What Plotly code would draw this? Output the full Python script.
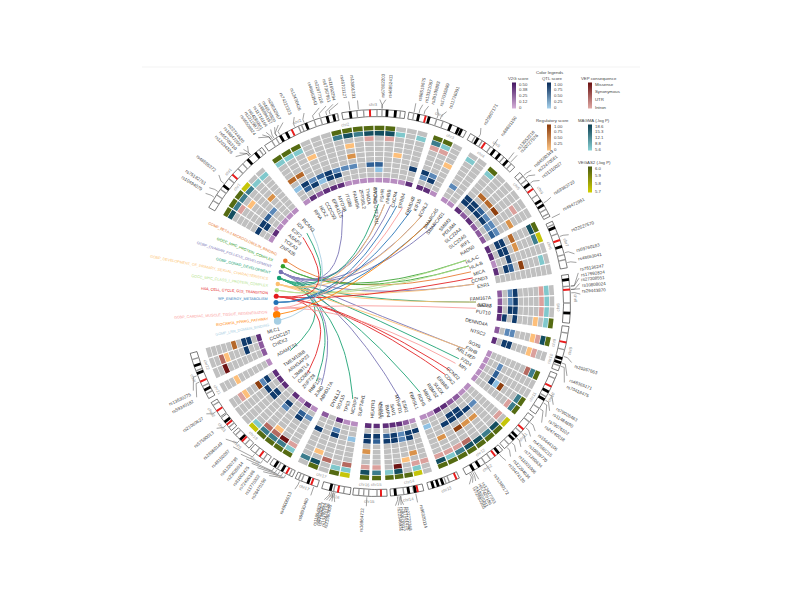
import math
import plotly.graph_objects as go

# ---------------- heat-map sectors (rows: 0 outer .. 10 inner) ----------------
chr1_genes = ["ZNF436", "TCEA3", "ASAP3", "E2F2", "ID3", "RCAN3"]
chr1_cells = {0: "OOOy..", 1: "Tuuuvv", 2: ".o....", 3: "..t...", 5: "....s.", 7: "BBbc..", 8: ".B....", 10: "qPqqqq"}
chr2_genes = ["RPIA", "NCK2", "CCDC93", "EPB41L5", "MYO3B", "ITGB6", "FAM49A", "ZFP36L2", "THADA", "STON1-GTF2A1L", "EPCAM", "FSHR", "INHBB", "CXCR4", "ERBB4"]
chr2_cells = {0: "OOO...OOOOOO...", 1: "vvv...uTuTTTv.v", 2: ".........o.o...", 3: "...t...t.......",
              5: "rr.....s....t..", 7: "dBcbBccc.bb...B", 8: ".bBdBB....d....", 10: "qPpPPPqqqqqqqqP"}
chr3_genes = ["FRMD4B", "KIF15", "FOXL2"]
chr3_cells = {0: "OO.", 1: "uv.", 2: "oo.", 4: "..t", 7: "Bc.", 8: "cB.", 10: "PPq"}
chr4_genes = ["SMARCA5", "SMARCAD1"]
chr4_cells = {1: "v.", 7: "c.", 10: "qq"}
chr5_genes = ["SMIM3", "PDLIM4", "SLC22A4", "SLC22A5", "IRF1", "RAD50"]
chr5_cells = {0: "O.....", 1: "v.....", 2: "....o.", 4: ".....s", 5: ".rrR..", 7: "BBbccc", 8: "BBBBcb", 10: "PpPppp"}
chr6_genes = ["HLA-C", "HLA-B", "MICA", "CCND3", "ESR1"]
chr6_cells = {0: "Oy...", 1: "Tu.v.", 5: "rs.R.", 7: "BBBb.", 8: "BB.B.", 10: "PPqP."}
chr8_genes = ["FAM167A", "GATA4", "NEIL2", "FUT10"]
chr8_cells = {0: "...O", 1: "vvvv", 2: "ooo.", 3: "...t", 7: "BBBB", 8: "ccB.", 9: "...B", 10: "ppPP"}
chr9_genes = ["DENND4A"]
chr9_cells = {0: "O", 1: "T", 2: "o", 3: "t", 7: "c", 8: "c", 10: "p"}
chr10_genes = ["NTSC2"]
chr10_cells = {0: ".", 2: "o", 3: "t", 7: "B", 8: "B", 10: "P"}
chr11_genes = ["SOX6", "FSHB", "ARL14EP", "FZD4", "MPI"]
chr11_cells = {0: "O..OO", 1: "u..uu", 2: "n...o", 5: "...R.", 6: "...d.", 7: ".cbB.", 10: "qqqqq"}
chr12_genes = ["CCND2", "CDK2", "ERBB3", "SUOX", "RBMS2", "MBD6", "RDH5", "FBRSL1"]
chr12_cells = {0: "yOOOOOOO", 1: ".TuTTuvT", 2: "o...nooo", 5: "..ssR.s.", 7: ".cBBBB..", 8: "...BB..d", 10: "qqppPPqq"}
chr14_genes = ["ESR2", "MTHFD1", "SAV1", "BMP4", "MYO16"]
chr14_cells = {0: ".yOOO", 1: ".v.Tv", 2: "oo.m.", 3: "..t..", 4: ".s...", 7: ".BcBB", 8: "BBcBb", 10: "qpPPP"}
chr15_genes = ["NR2F2"]
chr15_cells = {0: "O", 1: "u", 2: "o", 7: "b", 8: "B", 10: "P"}
chr16_genes = ["HEATR3"]
chr16_cells = {0: "O", 1: "T", 2: "o", 5: "s", 7: "B", 8: "B", 10: "P"}
chr17_genes = ["SUPT4H1", "MCRIP1", "TP53", "SOX15", "DYNLL2"]
chr17_cells = {0: "yO.O.", 1: "vv.Tu", 2: "n.n..", 3: "...t.", 7: "d.B.B", 8: "..c..", 10: "qqP.p"}
chr19_genes = ["ABHD17A", "JUND", "RNF126", "ZNF728", "CCNE1", "L3MBTL4", "ARHGAP23", "TMEM106B"]
chr19_cells = {0: "OOOOy...", 1: "vuuuv...", 2: "omnn...o", 3: "..t....t", 6: ".......R", 7: ".B.c.BBc", 8: "cb.B.B.B", 10: "qPqP.PPP"}
chr21_genes = ["ADAMTS1"]
chr21_cells = {3: "t", 10: "q"}
chr22_genes = ["CHEK2", "CCDC157", "MLC1"]
chr22_cells = {2: "mn.", 3: ".t.", 5: "..r", 7: ".BB", 8: "..B", 10: "ppP"}

sector_names = ["chr1", "chr2", "chr3", "chr4", "chr5", "chr6", "chr8", "chr9", "chr10", "chr11", "chr12", "chr14", "chr15", "chr16", "chr17", "chr19", "chr21", "chr22"]
sector_genes = [chr1_genes, chr2_genes, chr3_genes, chr4_genes, chr5_genes, chr6_genes, chr8_genes, chr9_genes, chr10_genes, chr11_genes, chr12_genes, chr14_genes, chr15_genes, chr16_genes, chr17_genes, chr19_genes, chr21_genes, chr22_genes]
sector_cells = [chr1_cells, chr2_cells, chr3_cells, chr4_cells, chr5_cells, chr6_cells, chr8_cells, chr9_cells, chr10_cells, chr11_cells, chr12_cells, chr14_cells, chr15_cells, chr16_cells, chr17_cells, chr19_cells, chr21_cells, chr22_cells]
sector_start = [-60.4, -36.5, 18.6, 31.5, 39.5, 62.5, 84.0, 101.0, 106.0, 112.7, 131.0, 161.7, 178.5, 182.4, 188.8, 209.0, 239.5, 244.7]
sector_end = [-40.0, 16.8, 29.0, 38.5, 61.0, 80.8, 98.5, 104.4, 109.4, 129.2, 159.7, 177.5, 181.8, 185.8, 206.7, 237.0, 243.0, 255.4]

cell_colors = {".": "#c0c0c0", "P": "#5e2d79", "p": "#8c5a9e", "q": "#b78cc0",
               "B": "#0f3a6b", "b": "#2f5f94", "c": "#5b88b8", "d": "#8fc1e3",
               "R": "#8e3f0f", "r": "#b5682a", "s": "#d9924a", "t": "#fdbf7a",
               "m": "#6e1414", "n": "#b56a60", "o": "#dba09c",
               "T": "#144e60", "u": "#3c7c8c", "v": "#80c8cc", "O": "#556b12", "y": "#c5c50a"}

# ---------------- ideogram ----------------
ideo_names = ["chr1", "chr2", "chr3", "chr4", "chr5", "chr6", "chr7", "chr8", "chr9", "chr10", "chr11", "chr12", "chr13", "chr14", "chr15", "chr16", "chr17", "chr18", "chr19", "chr20", "chr21", "chr22", "chrX"]
ideo_start = [-60.4, -35.5, -10.5, 9.5, 28.9, 47.6, 65.0, 81.5, 97.0, 111.5, 126.0, 139.5, 154.8, 166.0, 177.0, 188.0, 198.0, 206.0, 214.5, 221.4, 228.8, 234.0, 240.4]
ideo_end = [-36.5, -11.8, 8.4, 27.5, 45.4, 63.4, 79.5, 96.0, 110.5, 125.0, 138.8, 152.6, 164.5, 176.0, 187.2, 196.6, 205.0, 213.6, 220.8, 228.0, 233.6, 239.0, 254.9]
ideo_centromere = [-48.4, -26.2, -2.1, 14.6, 34.0, 53.8, 71.0, 86.0, 101.8, 115.6, 130.8, 142.3, 155.7, 167.8, 178.8, 191.7, 199.9, 208.0, 217.4, 224.3, 231.0, 236.0, 246.0]
ideo_black = [-52.6, -42, -39, -30, -28, -21.6, -15, -13, -8, 3, 5.5, 12.5, 15.7, 22.5, 25, 26, 31.5, 37.5, 39.5, 42.5, 52, 58, 59.5, 67, 73, 83, 93, 106.7, 108, 117.4, 120, 133.7, 135, 141, 148, 150, 160, 161.5, 163, 168.5, 170.5, 174.5, 194, 201, 209.5, 212, 225, 232, 243.2, 248.6, 251]
ideo_gray = [-58, -56, -54, -50, -46, -44, -37.5, -33, -31.5, -24, -23, -19, -17, -11.8, -6, -4, 0, 1.5, 7, 11, 18, 20, 30.5, 33, 36, 41, 44, 49, 50.5, 56, 61, 62.5, 66, 69, 75.5, 77, 85, 90, 99, 104, 109, 113, 119, 123, 128, 132, 137, 144, 146, 158, 159, 169, 172, 180, 182.5, 184, 185.5, 190, 193, 203, 204, 207, 211, 216, 219, 223, 227, 230, 238, 242, 244.5, 249.5, 253]

# ---------------- SNP labels ----------------
snp_label = ["rs10494079", "rs75182751", "rs46555372", "rs12034326", "rs66701310", "rs18847205", "rs22744620", "rs46509924", "rs12119877", "rs64285801", "rs11716164", "rs66894167", "rs46574820", "rs28032967",
             "rs74221323", "rs12470426", "rs46663543", "rs22877120", "rs67367951", "rs11692294", "rs46701127", "rs13001231",
             "rs67802203", "rs46852411", "rs98519675", "rs13321067", "rs26109893", "rs17035889", "rs11726091",
             "rs25607171", "rs68691150", "rs13952218", "rs20727576", "rs64580349", "rs22470561", "rs31310027", "rs69383720", "rs49472961",
             "rs22527570", "rs69760183", "rs48663041", "rs78136247", "rs17992824", "rs27308551", "rs10808024", "rs29443870",
             "rs20267663", "rs48365171", "rs70418475", "rs79026463", "rs11484690", "rs79076102", "rs24740018",
             "rs15444106", "rs47560215", "rs10839770", "rs71260634", "rs11031006", "rs12294034",
             "rs10474120", "rs31380172", "rs12427033", "rs57420186", "rs18600241", "rs72980355",
             "rs96320114", "rs22770368", "rs17101425", "rs80070912", "rs22346931",
             "rs16964712", "rs21060835", "rs12470126", "rs71980044", "rs80520317", "rs11654829", "rs98930460",
             "rs48006013", "rs28470159", "rs11770322", "rs72490186", "rs81002475", "rs23020914", "rs61220738", "rs48150267",
             "rs28360149", "rs57580013", "rs21060627", "rs59340182", "rs13630275"]
snp_angle = [-57.4, -55.5, -51, -44, -42.5, -41, -39.5, -35.7, -34.3, -33, -31.5, -30.2, -29, -27.5,
             -24, -21, -16.5, -14.5, -12.5, -11, -8, -5.5,
             0.8, 2.5, 11, 13, 14.7, 17.3, 20,
             30.7, 36.4, 42.3, 43.5, 49.3, 51, 53, 58.7, 64,
             70.4, 76, 78.5, 81.5, 83, 84.5, 86, 87.5,
             107, 111, 113, 120, 122, 124, 126,
             129, 131, 133, 135, 137, 139,
             140.7, 146, 150, 151, 152, 153,
             168.5, 172.5, 173.2, 174, 174.8,
             183, 192, 192.8, 193.6, 194.4, 195, 199,
             203.8, 212, 214, 216, 218, 220, 222, 225,
             228, 232, 237, 242.4, 244.5]
snp_pos = [-57, -55, -52, -41, -41, -40.5, -40.5, -33, -33, -32.5, -32, -31, -31, -30,
           -25, -22, -19, -17, -15, -14, -8, -5.5,
           1.5, 1.5, 11, 12.5, 14, 18, 19,
           31.5, 36.5, 42.5, 43.5, 49, 50, 52, 59, 64,
           70, 75, 78, 85, 85, 86, 86, 87,
           106, 108, 109, 118, 120, 121, 123,
           128, 130, 132, 134, 136, 138,
           141, 146, 150, 150.5, 151, 151.5,
           168.5, 173, 173, 173.5, 174,
           183, 192.5, 193, 193, 193.5, 194, 199,
           203.5, 208, 209, 210, 211, 212, 216, 219,
           225, 231, 236, 246, 248]

# ---------------- pathways and links ----------------
pathway_names = ["GOMF_BETA-2-MICROGLOBULIN_BINDING", "GOCC_MHC_PROTEIN_COMPLEX", "GOBP_OVARIAN_FOLLICLE_DEVELOPMENT", "GOBP_GONAD_DEVELOPMENT",
                 "GOBP_DEVELOPMENT_OF_PRIMARY_SEXUAL_CHARACTERISTICS", "GOCC_MHC_CLASS_I_PROTEIN_COMPLEX", "HSA_CELL_CYCLE_G1S_TRANSITION", "WP_ENERGY_METABOLISM",
                 "GOBP_CARDIAC_MUSCLE_TISSUE_REGENERATION", "BIOCARTA_PPARG_PATHWAY", "GOMF_LRR_DOMAIN_BINDING"]
pathway_colors = ["#e8762b", "#33a02c", "#7570b3", "#13a06f", "#fdbf6f", "#b2df8a", "#e31a1c", "#2171b5", "#fb9a99", "#ff7f00", "#a6cee3"]
pathway_sizes = [4.5, 4.5, 4.5, 4.5, 4.5, 4.5, 5, 5, 5, 7.5, 7.5]
pathway_links = [
    ["MICA"],
    ["HLA-C", "HLA-B"],
    ["MYO3B", "FSHR", "INHBB", "FOXL2", "SMARCAD1", "ESR1", "FSHB", "MTHFD1", "JUND"],
    ["ID3", "EPCAM", "GATA4", "FZD4", "RDH5", "MCRIP1", "RNF126", "ADAMTS1"],
    ["GATA4", "FSHR", "ESR1", "FOXL2", "FSHB"],
    ["HLA-C", "HLA-B"],
    ["E2F2", "CCND3", "CCND2", "CDK2", "CCNE1"],
    ["CXCR4", "FRMD4B", "SMARCA5"],
    ["ERBB4", "NEIL2", "MPI"],
    ["SMARCA5"],
    ["RCAN3"],
]

# ---------------- legends ----------------
legend_titles = ["V2G score", "QTL score", "VEP consequence", "Regulatory score", "MAGMA (-log P)", "VEGAS2 (-log P)"]
legend_ticks = [["0.50", "0.38", "0.25", "0.12", "0"], ["1.00", "0.75", "0.50", "0.25", "0"], ["Missense", "Synonymous", "UTR", "Intron"],
                ["1.00", "0.75", "0.50", "0.25", "0"], ["18.6", "15.3", "12.1", "8.8", "5.6"], ["6.0", "5.9", "5.8", "5.7"]]
legend_low = ["#d6b0d8", "#a8d3ee", "#e0aaa5", "#fdc686", "#8bd3d6", "#d2d000"]
legend_high = ["#4a1a66", "#0c2f5c", "#6e1414", "#8e3f0f", "#0f4456", "#4f5f10"]
legend_x = [512, 547, 588, 547, 588, 588]
legend_top = [83, 83, 83, 125, 125, 167]
legend_title_x = [518, 552, 599, 552, 594, 594]

CX, CY = 377.0, 303.0


def pol(r, a):
    t = math.radians(a)
    return CX + r * math.sin(t), CY - r * math.cos(t)


def wedge(r0, r1, a0, a1):
    n = max(2, int(abs(a1 - a0) / 1.0) + 1)
    pts = [pol(r1, a0 + (a1 - a0) * i / n) for i in range(n + 1)] + [pol(r0, a1 - (a1 - a0) * i / n) for i in range(n + 1)]
    pts.append(pts[0])
    return [p[0] for p in pts], [p[1] for p in pts]


fig = go.Figure()
ann = []


def radial_text(text, r, a, size, color, outward):
    """Text along a radius. outward=True: starts at r and runs away from centre."""
    a = a % 360
    pos = pol(r, a)
    right_half = a < 180
    rot = a - 90 if right_half else a - 270
    if outward == right_half:
        xa = "left"
        ya = "bottom" if rot < 0 else "top"
    else:
        xa = "right"
        ya = "top" if rot < 0 else "bottom"
    ann.append(dict(x=pos[0], y=pos[1], xref="x", yref="y", text=text, showarrow=False, textangle=rot,
                    xanchor=xa, yanchor=ya, borderpad=0, font=dict(size=size, color=color, family="Liberation Sans")))


def tangent_text(text, r, a, size, color):
    pos = pol(r, a)
    aa = a % 360
    rot = aa if (aa < 90 or aa > 270) else aa - 180
    if rot > 180:
        rot -= 360
    ann.append(dict(x=pos[0], y=pos[1], xref="x", yref="y", text=text, showarrow=False, textangle=rot,
                    xanchor="center", yanchor="middle", borderpad=0, font=dict(size=size, color=color, family="Liberation Sans")))


def flat_text(text, x, y, size, color="#444444", xa="left"):
    ann.append(dict(x=x, y=y, xref="x", yref="y", text=text, showarrow=False, xanchor=xa, yanchor="middle",
                    borderpad=0, font=dict(size=size, color=color, family="Liberation Sans")))


# faint rule at the top of the page
fig.add_trace(go.Scatter(x=[142, 640], y=[67, 67], mode="lines", line=dict(color="#f3f3f3", width=1), hoverinfo="skip"))

# heat cells, one trace per colour
R0, DR = 175.0, 5.2
polys = {c: ([], []) for c in cell_colors}
gene_angle = {}
for name, genes, cells, s, e in zip(sector_names, sector_genes, sector_cells, sector_start, sector_end):
    w = (e - s) / len(genes)
    for j, g in enumerate(genes):
        a0 = s + j * w
        gene_angle[g] = a0 + w / 2
        for i in range(11):
            code = cells.get(i, "." * len(genes))[j]
            r = R0 - DR * i
            xs, ys = wedge(r - DR / 2 + 0.3, r + DR / 2 - 0.3, a0 + 0.2, a0 + w - 0.2)
            polys[code][0].extend(xs + [None])
            polys[code][1].extend(ys + [None])
        radial_text(g, 116.5, a0 + w / 2, 4.8, "#333333", False)
    tangent_text(name, 181.5, (s + e) / 2, 4.2, "#999999")
for code, (xs, ys) in polys.items():
    fig.add_trace(go.Scatter(x=xs, y=ys, mode="lines", fill="toself", fillcolor=cell_colors[code],
                             line=dict(width=0, color=cell_colors[code]), hoverinfo="skip"))

# ideogram
IR0, IR1 = 186.5, 193.5
oxs, oys, bxs, bys, gxs, gys, rxs, rys = [], [], [], [], [], [], [], []
for name, s, e, cen in zip(ideo_names, ideo_start, ideo_end, ideo_centromere):
    xs, ys = wedge(IR0, IR1, s, e)
    oxs += xs + [None]
    oys += ys + [None]
    xs, ys = wedge(IR0, IR1, cen - 0.3, cen + 0.3)
    rxs += xs + [None]
    rys += ys + [None]
    tangent_text(name, 198.5, (s + e) / 2, 4.2, "#888888")
for b in ideo_black:
    xs, ys = wedge(IR0, IR1, b - 0.42, b + 0.42)
    bxs += xs + [None]
    bys += ys + [None]
for b in ideo_gray:
    xs, ys = wedge(IR0, IR1, b - 0.2, b + 0.2)
    gxs += xs + [None]
    gys += ys + [None]
fig.add_trace(go.Scatter(x=oxs, y=oys, mode="lines", fill="toself", fillcolor="white", line=dict(color="#222222", width=0.6), hoverinfo="skip"))
fig.add_trace(go.Scatter(x=gxs, y=gys, mode="lines", fill="toself", fillcolor="#999999", line=dict(width=0, color="#999999"), hoverinfo="skip"))
fig.add_trace(go.Scatter(x=bxs, y=bys, mode="lines", fill="toself", fillcolor="#000000", line=dict(width=0, color="#000000"), hoverinfo="skip"))
fig.add_trace(go.Scatter(x=rxs, y=rys, mode="lines", fill="toself", fillcolor="#e81c1c", line=dict(width=0, color="#e81c1c"), hoverinfo="skip"))

# SNP leaders and labels
lx, ly = [], []
for lab, a, p in zip(snp_label, snp_angle, snp_pos):
    p0, p1, p2 = pol(194.5, p), pol(198, p), pol(203.5, a)
    lx += [p0[0], p1[0], p2[0], None]
    ly += [p0[1], p1[1], p2[1], None]
    radial_text(lab, 204, a, 4.5, "#444444", True)
fig.add_trace(go.Scatter(x=lx, y=ly, mode="lines", line=dict(color="#444444", width=0.5), hoverinfo="skip"))

# chords
P_START, P_STEP = 294.8, -3.5
CTRL = (CX - 32, CY)
for k, (name, col, size, links) in enumerate(zip(pathway_names, pathway_colors, pathway_sizes, pathway_links)):
    a = P_START + k * P_STEP
    p0 = pol(101, a)
    xs, ys = [], []
    for g in links:
        p2 = pol(99, gene_angle[g])
        for i in range(41):
            t = i / 40
            xs.append((1 - t) ** 2 * p0[0] + 2 * t * (1 - t) * CTRL[0] + t ** 2 * p2[0])
            ys.append((1 - t) ** 2 * p0[1] + 2 * t * (1 - t) * CTRL[1] + t ** 2 * p2[1])
        xs.append(None)
        ys.append(None)
    fig.add_trace(go.Scatter(x=xs, y=ys, mode="lines", line=dict(color=col, width=1.0), opacity=0.85, hoverinfo="skip"))
    fig.add_trace(go.Scatter(x=[p0[0]], y=[p0[1]], mode="markers", marker=dict(color=col, size=size), hoverinfo="skip"))
    radial_text(name, 108, a, 3.7, col, True)

# legends
flat_text("Color legends", 550, 72, 4.4, xa="center")
for title, ticks, lo, hi, lx0, top, tx in zip(legend_titles, legend_ticks, legend_low, legend_high, legend_x, legend_top, legend_title_x):
    h = 25.0
    levels = list(range(26))
    fig.add_trace(go.Heatmap(x0=lx0 + 2.2, dx=4.4, y0=top + h, dy=-1.0, z=[[v] for v in levels],
                             colorscale=[[0, lo], [1, hi]], showscale=False, hoverinfo="skip"))
    flat_text(title, tx, top - 5, 4.3, xa="center")
    for i, t in enumerate(ticks):
        flat_text(t, lx0 + 6, top + 1 + 23.5 * i / (len(ticks) - 1), 4.3)

fig.update_layout(
    width=784, height=584, margin=dict(l=0, r=0, t=0, b=0), autosize=False,
    paper_bgcolor="white", plot_bgcolor="white", showlegend=False, annotations=ann,
    xaxis=dict(range=[8, 792], visible=False, fixedrange=True),
    yaxis=dict(range=[592, 8], visible=False, fixedrange=True),
)
fig.write_html("out.html")
